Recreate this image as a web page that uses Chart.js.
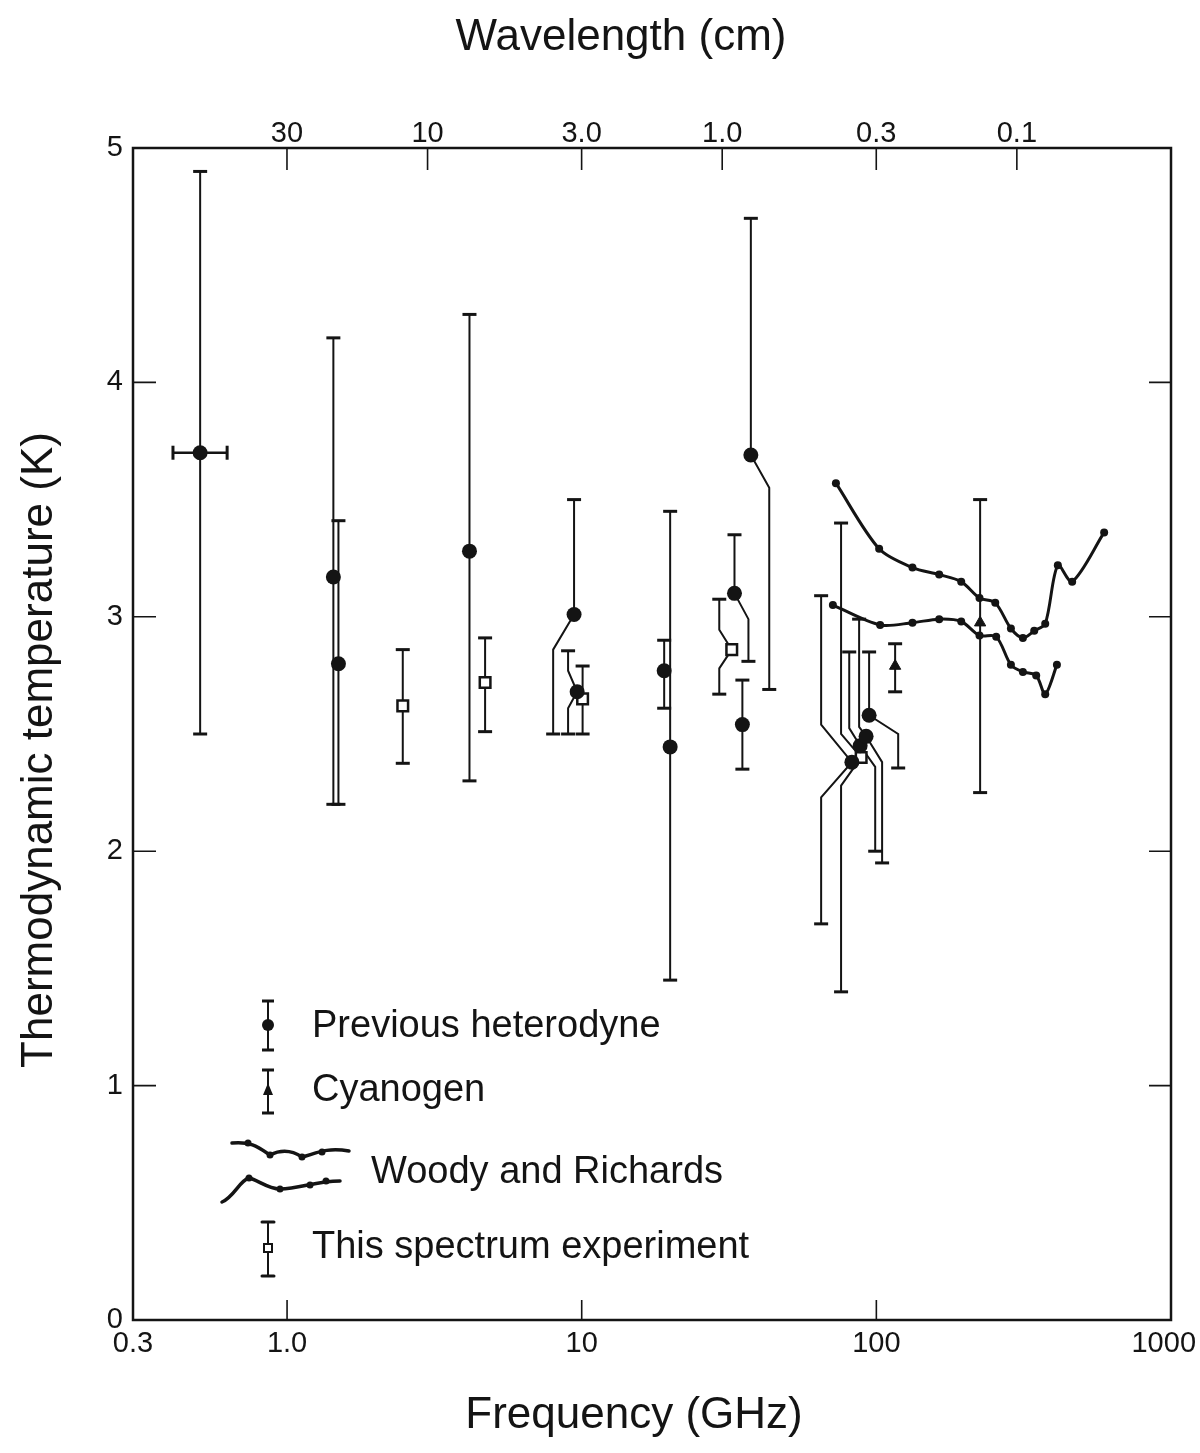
<!DOCTYPE html>
<html>
<head>
<meta charset="utf-8">
<script src="https://cdn.jsdelivr.net/npm/chart.js@4.4.1/dist/chart.umd.min.js"></script>
<style>
  html, body { margin: 0; padding: 0; background: #fff; }
  #wrap { width: 1200px; height: 1453px; }
</style>
</head>
<body>
<div id="wrap"><canvas id="chart" width="1200" height="1453"></canvas></div>
<script>
// tick values / labels
var freqTicks = [0.3, 1, 10, 100, 1000];
var freqTickLabels = ['0.3', '1.0', '10', '100', '1000\u2002'];
var waveTicks = [30, 10, 3, 1, 0.3, 0.1]; // cm
var waveTickLabels = ['30', '10', '3.0', '1.0', '0.3', '0.1'];
var tempTicks = [0, 1, 2, 3, 4, 5];

// previous heterodyne measurements (GHz, K)
var hetFreq = [0.507, 1.436, 1.494, 4.16, 9.42, 9.65, 19.05, 19.96, 33.0, 35.1, 37.5, 82.6, 88.1, 92.3, 94.5];
var hetTemp = [3.70, 3.17, 2.80, 3.28, 3.01, 2.68, 2.77, 2.445, 3.10, 2.54, 3.69, 2.38, 2.45, 2.49, 2.58];
var hetLow  = [2.50, 2.20, 2.20, 2.30, 2.50, 2.50, 2.61, 1.45, 2.81, 2.35, 2.69, 1.69, 2.00, 1.95, 2.355];
var hetHigh = [4.90, 4.19, 3.41, 4.29, 3.50, 2.855, 2.90, 3.45, 3.35, 2.73, 4.70, 3.09, 2.85, 2.99, 2.85];
// displaced legs of the error bars: [freq of leg, temp where it bends] or null
var hetUpLeg  = [null, null, null, null, null, [8.99, 2.77], null, null, null, null, null, [64.95, 2.54], [80.9, 2.525], [87.4, 2.53], null];
var hetLowLeg = [null, null, null, null, [8.0, 2.86], [8.99, 2.61], null, null, [36.8, 2.99], null, [43.3, 3.55], [64.95, 2.23], [99.1, 2.36], [104.6, 2.38], [118.6, 2.50]];
var hetFreqRange = [0.41, 0.626]; // horizontal bar of the first point

// cyanogen
var cyFreq = [115.8, 225];
var cyTemp = [2.79, 2.975];
var cyLow  = [2.68, 2.25];
var cyHigh = [2.885, 3.50];

// this spectrum experiment
var expFreq = [2.47, 4.70, 10.07, 32.3, 88.8];
var expTemp = [2.62, 2.72, 2.65, 2.86, 2.40];
var expLow  = [2.375, 2.51, 2.50, 2.67, 1.40];
var expHigh = [2.86, 2.91, 2.79, 3.075, 3.40];
var expUpLeg  = [null, null, null, [29.3, 2.945], [75.9, 2.50]];
var expLowLeg = [null, null, null, [29.3, 2.78], [75.9, 2.28]];

// Woody and Richards
var wrUpperFreq = [72.9, 102.2, 132.6, 163.4, 194.1, 223.9, 253.2, 286.2, 314.3, 343.4, 374.2, 413, 461.9, 593.1];
var wrUpperTemp = [3.57, 3.29, 3.21, 3.18, 3.15, 3.08, 3.06, 2.95, 2.91, 2.94, 2.97, 3.22, 3.15, 3.36];
var wrLowerFreq = [71.2, 103, 132.6, 163.4, 194.1, 223.9, 255.1, 286.2, 314.3, 348.7, 374.2, 410];
var wrLowerTemp = [3.05, 2.965, 2.975, 2.99, 2.98, 2.92, 2.915, 2.795, 2.765, 2.75, 2.67, 2.795];

var ink = '#141414';
var fontFamily = '"Liberation Sans", Arial, Helvetica, sans-serif';

var errorBar = function(f, t, lo, hi, upLeg, lowLeg) {
  var pts = [], radii = [];
  if (upLeg) {
    pts.push({x: upLeg[0], y: hi}, {x: upLeg[0], y: upLeg[1]});
    radii.push(7, 0);
  } else {
    pts.push({x: f, y: hi});
    radii.push(7);
  }
  pts.push({x: f, y: t});
  radii.push(0);
  if (lowLeg) {
    pts.push({x: lowLeg[0], y: lowLeg[1]}, {x: lowLeg[0], y: lo});
    radii.push(0, 7);
  } else {
    pts.push({x: f, y: lo});
    radii.push(7);
  }
  return {
    type: 'line', data: pts, borderColor: ink, borderWidth: 2, tension: 0, fill: false,
    pointStyle: 'line', pointRadius: radii, pointBorderWidth: 3, pointBorderColor: ink,
    pointHoverRadius: 0, order: 3
  };
};

var datasets = [];

hetFreq.forEach(function(f, i) {
  datasets.push(errorBar(f, hetTemp[i], hetLow[i], hetHigh[i], hetUpLeg[i], hetLowLeg[i]));
});
cyFreq.forEach(function(f, i) {
  datasets.push(errorBar(f, cyTemp[i], cyLow[i], cyHigh[i], null, null));
});
expFreq.forEach(function(f, i) {
  datasets.push(errorBar(f, expTemp[i], expLow[i], expHigh[i], expUpLeg[i], expLowLeg[i]));
});
// horizontal bar of the lowest frequency point
datasets.push({
  type: 'line', data: hetFreqRange.map(function(f) { return {x: f, y: hetTemp[0]}; }),
  borderColor: ink, borderWidth: 2.5, pointStyle: 'line', pointRotation: 90,
  pointRadius: 7, pointBorderWidth: 3, pointBorderColor: ink, order: 3
});

var wrLine = function(fs, ts) {
  return {
    type: 'line', data: fs.map(function(f, i) { return {x: f, y: ts[i]}; }),
    borderColor: ink, borderWidth: 3, tension: 0.3, fill: false,
    pointRadius: 4, pointBackgroundColor: ink, pointBorderColor: ink, pointBorderWidth: 0, order: 2
  };
};
datasets.push(wrLine(wrUpperFreq, wrUpperTemp));
datasets.push(wrLine(wrLowerFreq, wrLowerTemp));

// markers on top
datasets.push({
  type: 'scatter', data: hetFreq.map(function(f, i) { return {x: f, y: hetTemp[i]}; }),
  pointStyle: 'circle', pointRadius: 7.5, backgroundColor: ink, borderColor: ink, borderWidth: 0, order: 0
});
datasets.push({
  type: 'scatter', data: cyFreq.map(function(f, i) { return {x: f, y: cyTemp[i]}; }),
  pointStyle: 'triangle', pointRadius: 6.5, backgroundColor: ink, borderColor: ink, borderWidth: 1, order: 0
});
datasets.push({
  type: 'scatter', data: expFreq.map(function(f, i) { return {x: f, y: expTemp[i]}; }),
  pointStyle: 'rect', pointRadius: 7.5, backgroundColor: '#fff', borderColor: ink, borderWidth: 2.5, order: 0
});

// frame + inward tick marks + axis titles
var framePlugin = {
  id: 'frame',
  afterDraw: function(chart) {
    var ctx = chart.ctx, a = chart.chartArea;
    ctx.save();
    ctx.strokeStyle = ink;
    ctx.lineWidth = 2.5;
    ctx.strokeRect(a.left, a.top, a.right - a.left, a.bottom - a.top);
    ctx.lineWidth = 1.6;
    ctx.beginPath();
    chart.scales.x.ticks.forEach(function(t) {
      if (t.value <= 0.3 || t.value >= 1000) return;
      var px = chart.scales.x.getPixelForValue(t.value);
      ctx.moveTo(px, a.bottom); ctx.lineTo(px, a.bottom - 20);
    });
    chart.scales.x2.ticks.forEach(function(t) {
      var px = chart.scales.x2.getPixelForValue(t.value);
      ctx.moveTo(px, a.top); ctx.lineTo(px, a.top + 22);
    });
    chart.scales.y.ticks.forEach(function(t) {
      if (t.value <= 0 || t.value >= 5) return;
      var py = chart.scales.y.getPixelForValue(t.value);
      ctx.moveTo(a.left, py); ctx.lineTo(a.left + 23, py);
      ctx.moveTo(a.right, py); ctx.lineTo(a.right - 22, py);
    });
    ctx.stroke();

    ctx.fillStyle = ink;
    ctx.font = '44px ' + fontFamily;
    ctx.textAlign = 'center';
    ctx.textBaseline = 'middle';
    ctx.fillText('Wavelength (cm)', 621, 38);
    ctx.fillText('Frequency (GHz)', 634, 1416);
    ctx.translate(40, 750);
    ctx.rotate(-Math.PI / 2);
    ctx.fillText('Thermodynamic temperature (K)', 0, 0);
    ctx.restore();
  }
};

// hand-drawn style legend inside the plot
var legendPlugin = {
  id: 'figLegend',
  afterDraw: function(chart) {
    var ctx = chart.ctx;
    ctx.save();
    ctx.strokeStyle = ink;
    ctx.fillStyle = ink;
    var bar = function(x, y0, y1) {
      ctx.lineWidth = 2;
      ctx.beginPath(); ctx.moveTo(x, y0); ctx.lineTo(x, y1); ctx.stroke();
      ctx.lineWidth = 3;
      ctx.beginPath();
      ctx.moveTo(x - 6, y0); ctx.lineTo(x + 6, y0);
      ctx.moveTo(x - 6, y1); ctx.lineTo(x + 6, y1);
      ctx.stroke();
    };
    var sx = 268;
    bar(sx, 1001, 1050);
    ctx.beginPath(); ctx.arc(sx, 1025, 6, 0, Math.PI * 2); ctx.fill();
    bar(sx, 1070, 1113);
    ctx.beginPath(); ctx.moveTo(sx, 1083); ctx.lineTo(sx + 5, 1095); ctx.lineTo(sx - 5, 1095); ctx.closePath(); ctx.fill();
    // two wavy lines
    ctx.lineWidth = 3.5;
    ctx.lineCap = 'round';
    ctx.beginPath();
    ctx.moveTo(232, 1143);
    ctx.bezierCurveTo(250, 1141, 258, 1147, 270, 1155);
    ctx.bezierCurveTo(280, 1150, 290, 1149, 302, 1157);
    ctx.bezierCurveTo(315, 1154, 325, 1147, 349, 1151);
    ctx.stroke();
    ctx.beginPath();
    ctx.moveTo(222, 1202);
    ctx.bezierCurveTo(234, 1197, 240, 1180, 249, 1178);
    ctx.bezierCurveTo(258, 1180, 268, 1189, 280, 1189);
    ctx.bezierCurveTo(300, 1189, 315, 1181, 340, 1181);
    ctx.stroke();
    [[248, 1143], [270, 1155], [302, 1157], [322, 1152], [249, 1178], [280, 1189], [310, 1185], [326, 1181]].forEach(function(p) {
      ctx.beginPath(); ctx.arc(p[0], p[1], 3.5, 0, Math.PI * 2); ctx.fill();
    });
    bar(sx, 1222, 1276);
    ctx.fillStyle = '#fff';
    ctx.lineWidth = 2;
    ctx.fillRect(sx - 4, 1244, 8, 8);
    ctx.strokeRect(sx - 4, 1244, 8, 8);

    ctx.fillStyle = ink;
    ctx.font = '38px ' + fontFamily;
    ctx.textBaseline = 'middle';
    ctx.textAlign = 'left';
    ctx.fillText('Previous heterodyne', 312, 1027);
    ctx.fillText('Cyanogen', 312, 1091);
    ctx.fillText('Woody and Richards', 371, 1173);
    ctx.fillText('This spectrum experiment', 312, 1248);
    ctx.restore();
  }
};

var tickFont = {family: fontFamily, size: 29};
var noPad = function(s) { s.paddingLeft = 0; s.paddingRight = 0; };

new Chart(document.getElementById('chart').getContext('2d'), {
  data: {datasets: datasets},
  options: {
    responsive: false,
    animation: false,
    layout: {padding: {right: 29}},
    plugins: {legend: {display: false}, tooltip: {enabled: false}},
    events: [],
    scales: {
      x: {
        type: 'logarithmic', position: 'bottom', min: 0.3, max: 1000,
        afterBuildTicks: function(s) { s.ticks = freqTicks.map(function(v) { return {value: v}; }); },
        afterFit: function(s) { s.height = 133; noPad(s); },
        grid: {display: false, drawTicks: false},
        border: {display: false},
        ticks: {
          font: tickFont, color: ink, padding: 7, maxRotation: 0, autoSkip: false,
          callback: function(v, i) { return freqTickLabels[i]; }
        }
      },
      x2: {
        type: 'logarithmic', position: 'top', min: 0.3, max: 1000,
        afterBuildTicks: function(s) { s.ticks = waveTicks.map(function(l) { return {value: 29.98 / l}; }); },
        afterFit: function(s) { s.height = 148; noPad(s); },
        grid: {display: false, drawTicks: false},
        border: {display: false},
        ticks: {
          font: tickFont, color: ink, padding: -3, maxRotation: 0, autoSkip: false,
          callback: function(v, i) { return waveTickLabels[i]; }
        }
      },
      y: {
        type: 'linear', position: 'left', min: 0, max: 5,
        afterBuildTicks: function(s) { s.ticks = tempTicks.map(function(v) { return {value: v}; }); },
        afterFit: function(s) { s.width = 133; },
        grid: {display: false, drawTicks: false},
        border: {display: false},
        ticks: {font: tickFont, color: ink, padding: 10, callback: function(v) { return String(v); }}
      }
    }
  },
  plugins: [framePlugin, legendPlugin]
});
</script>
</body>
</html>
